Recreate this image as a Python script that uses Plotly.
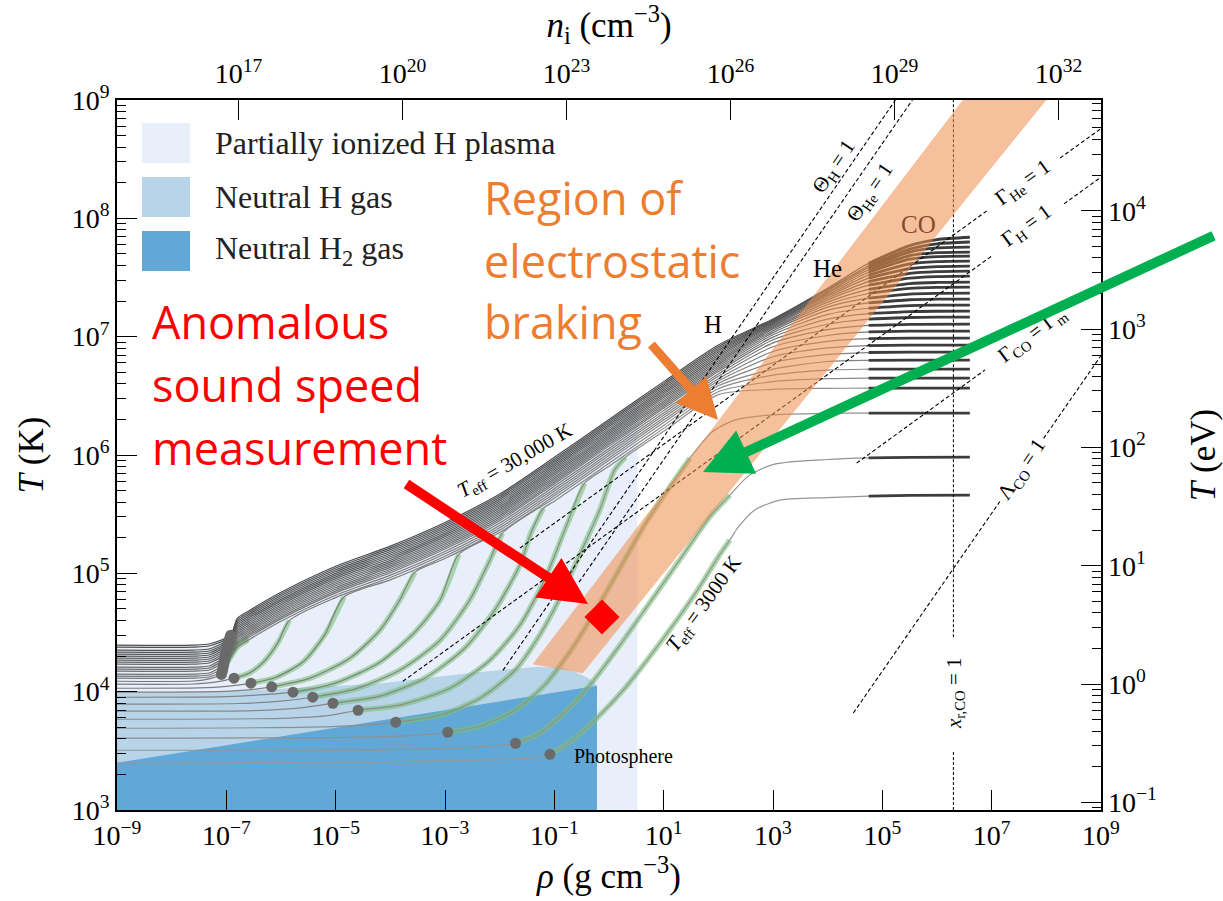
import plotly.graph_objects as go

SERIF = "Liberation Serif"
SANS = "Open Sans"

# n_i = rho / m_H  and  T[eV] = T[K] / 11604.5  (log10 offsets for the twin axes)
LOG_NI_OFFSET = 23.776
LOG_K_PER_EV = 4.0646

RHO_TICK_EXP = [-9, -7, -5, -3, -1, 1, 3, 5, 7, 9]
T_TICK_EXP = [3, 4, 5, 6, 7, 8, 9]
NI_TICK_EXP = [17, 20, 23, 26, 29, 32]
EV_TICK_EXP = [-1, 0, 1, 2, 3, 4]

TEFF_K = [3000, 4000, 5000, 6000, 7000, 8000, 9000, 10000, 11000, 12000,
          13000, 14000, 15000, 16000, 17000, 18000, 19000, 20000, 21000,
          22000, 23000, 24000, 25000, 26000, 27000, 28000, 29000, 30000]

# Envelope profiles: (log10 rho [g/cm3], log10 T [K]) for each T_eff
P3000 = [(-9.0, 3.395), (-4.74, 3.404), (-2.36, 3.421), (-1.45, 3.438), (-1.08, 3.471), (-0.72, 3.573),
         (-0.26, 3.759), (0.29, 4.029), (0.93, 4.41), (1.57, 4.824), (2.02, 5.154), (2.21, 5.28),
         (2.35, 5.382), (2.66, 5.534), (3.12, 5.618), (4.0, 5.64), (4.75, 5.652), (5.5, 5.658), (6.6, 5.661)]
P4000 = [(-9.0, 3.505), (-3.5, 3.515), (-2.3, 3.535), (-1.71, 3.564), (-1.27, 3.649), (-0.81, 3.826),
         (-0.35, 4.055), (0.20, 4.393), (0.74, 4.748), (1.29, 5.111), (1.84, 5.475), (2.21, 5.661),
         (2.57, 5.83), (3.03, 5.923), (4.0, 5.962), (4.75, 5.975), (5.5, 5.98), (6.6, 5.982)]
P5000 = [(-9.0, 3.607), (-4.5, 3.615), (-3.4, 3.635), (-2.95, 3.657), (-2.36, 3.708), (-1.72, 3.843),
         (-1.18, 4.055), (-0.72, 4.334), (-0.26, 4.672), (0.20, 5.044), (0.65, 5.407), (1.11, 5.728),
         (1.48, 5.974), (1.88, 6.193), (2.30, 6.295), (2.94, 6.337), (4.0, 6.352), (4.75, 6.354),
         (5.5, 6.354), (6.6, 6.354)]
P6000 = [(-9.0, 3.691), (-5.5, 3.70), (-4.4, 3.72), (-3.90, 3.742), (-3.09, 3.801), (-2.36, 3.945),
         (-1.72, 4.181), (-1.27, 4.477), (-0.90, 4.79), (-0.54, 5.154), (-0.17, 5.534), (0.10, 5.872),
         (0.3, 5.98), (1.0, 6.20), (2.0, 6.51), (3.0, 6.555), (4.0, 6.563), (4.75, 6.565), (5.5, 6.565),
         (6.6, 6.565)]
P7000 = [(-9.0, 3.767), (-6.0, 3.775), (-5.1, 3.80), (-4.59, 3.843), (-3.83, 3.886), (-2.91, 4.029),
         (-2.18, 4.266), (-1.63, 4.562), (-1.18, 4.943), (-0.81, 5.365), (-0.45, 5.76), (0.0, 5.905),
         (1.0, 6.225), (2.0, 6.535), (3.0, 6.62), (4.0, 6.645), (4.75, 6.65), (5.5, 6.65), (6.6, 6.65)]
P8000 = [(-9.0, 3.835), (-6.5, 3.84), (-5.6, 3.865), (-5.05, 3.902), (-4.19, 3.962), (-3.37, 4.114),
         (-2.64, 4.367), (-2.09, 4.689), (-1.63, 5.07), (-1.42, 5.35), (-1.2, 5.55), (-1.0, 5.61),
         (0.0, 5.93), (1.0, 6.25), (2.0, 6.56), (3.0, 6.675), (4.0, 6.718), (4.75, 6.725), (5.5, 6.726),
         (6.6, 6.726)]
P9000 = [(-9.0, 3.894), (-6.8, 3.90), (-6.0, 3.92), (-5.42, 3.953), (-4.65, 4.021), (-3.83, 4.181),
         (-3.09, 4.435), (-2.55, 4.773), (-2.18, 5.111), (-1.95, 5.34), (-1.0, 5.635), (0.0, 5.955),
         (1.0, 6.275), (2.0, 6.585), (3.0, 6.725), (4.0, 6.79), (4.75, 6.80), (5.5, 6.802), (6.6, 6.802)]
P10000 = [(-9.0, 3.953), (-7.0, 3.958), (-6.3, 3.975), (-5.78, 3.996), (-5.01, 4.072), (-4.19, 4.249),
          (-3.55, 4.503), (-3.09, 4.773), (-2.75, 5.16), (-2.0, 5.345), (-1.0, 5.655), (0.0, 5.975),
          (1.0, 6.295), (2.0, 6.605), (3.0, 6.78), (4.0, 6.85), (4.75, 6.866), (5.5, 6.87), (6.6, 6.87)]
P11000 = [(-9.0, 3.996), (-7.2, 4.0), (-6.6, 4.015), (-6.17, 4.041), (-5.47, 4.114), (-4.74, 4.283),
          (-4.19, 4.52), (-3.83, 4.773), (-3.55, 5.01), (-3.0, 5.125), (-2.0, 5.365), (-1.0, 5.675),
          (0.0, 5.995), (1.0, 6.315), (2.0, 6.625), (3.0, 6.83), (4.0, 6.905), (4.75, 6.925),
          (5.5, 6.929), (6.6, 6.929)]
P12000 = [(-9.0, 4.029), (-7.5, 4.032), (-7.0, 4.045), (-6.55, 4.072), (-6.1, 4.12), (-5.6, 4.25),
          (-5.2, 4.48), (-4.85, 4.80), (-4.0, 4.945), (-3.0, 5.145), (-2.0, 5.385), (-1.0, 5.695),
          (0.0, 6.015), (1.0, 6.335), (2.0, 6.645), (3.0, 6.875), (4.0, 6.96), (4.75, 6.983),
          (5.5, 6.988), (6.6, 6.988)]
P13000 = [(-9.0, 4.063), (-7.6, 4.065), (-7.2, 4.08), (-6.86, 4.114), (-6.57, 4.16), (-6.3, 4.26),
          (-6.05, 4.42), (-5.85, 4.60), (-5.0, 4.795), (-4.0, 4.965), (-3.0, 5.165), (-2.0, 5.405),
          (-1.0, 5.715), (0.0, 6.035), (1.0, 6.355), (2.0, 6.665), (3.0, 6.915), (4.0, 7.01),
          (4.75, 7.04), (5.5, 7.046), (6.6, 7.047)]
P14000 = [(-9.0, 4.088), (-7.6, 4.09), (-7.3, 4.11), (-7.09, 4.146), (-6.95, 4.27), (-6.8, 4.375),
          (-6.6, 4.435), (-6.0, 4.595), (-5.0, 4.815), (-4.0, 4.985), (-3.0, 5.185), (-2.0, 5.425),
          (-1.0, 5.735), (0.0, 6.055), (1.0, 6.375), (2.0, 6.685), (3.0, 6.948), (4.0, 7.06),
          (4.75, 7.095), (5.5, 7.104), (6.6, 7.106)]
P15000 = [(-9.0, 4.114), (-7.6, 4.114), (-7.3, 4.126), (-7.07, 4.176), (-6.8, 4.395), (-6.6, 4.455),
          (-6.0, 4.615), (-5.0, 4.835), (-4.0, 5.005), (-3.0, 5.205), (-2.0, 5.445), (-1.0, 5.755),
          (0.0, 6.075), (1.0, 6.395), (2.0, 6.705), (3.0, 6.974), (4.0, 7.105), (4.75, 7.148),
          (5.5, 7.162), (6.0, 7.165), (6.6, 7.165)]
P16000 = [(-9.0, 4.131), (-7.6, 4.131), (-7.3, 4.143), (-7.06, 4.204), (-6.8, 4.41), (-6.6, 4.47),
          (-6.0, 4.63), (-5.0, 4.85), (-4.0, 5.02), (-3.0, 5.22), (-2.0, 5.46), (-1.0, 5.77),
          (0.0, 6.09), (1.0, 6.41), (2.0, 6.72), (3.0, 6.996), (4.0, 7.148), (4.75, 7.195),
          (5.5, 7.212), (6.0, 7.215), (6.6, 7.216)]
P17000 = [(-9.0, 4.148), (-7.6, 4.148), (-7.3, 4.16), (-7.05, 4.23), (-6.8, 4.425), (-6.6, 4.485),
          (-6.0, 4.645), (-5.0, 4.865), (-4.0, 5.035), (-3.0, 5.235), (-2.0, 5.475), (-1.0, 5.785),
          (0.0, 6.105), (1.0, 6.425), (2.0, 6.735), (3.0, 7.016), (4.0, 7.188), (4.75, 7.24),
          (5.5, 7.262), (6.0, 7.266), (6.6, 7.267)]
P18000 = [(-9.0, 4.173), (-7.6, 4.173), (-7.3, 4.185), (-7.04, 4.255), (-6.8, 4.44), (-6.6, 4.50),
          (-6.0, 4.66), (-5.0, 4.88), (-4.0, 5.05), (-3.0, 5.25), (-2.0, 5.49), (-1.0, 5.80),
          (0.0, 6.12), (1.0, 6.44), (2.0, 6.75), (3.0, 7.034), (4.0, 7.222), (4.75, 7.285),
          (5.5, 7.312), (6.0, 7.317), (6.6, 7.318)]
P19000 = [(-9.0, 4.19), (-7.6, 4.19), (-7.3, 4.202), (-7.03, 4.279), (-6.8, 4.455), (-6.6, 4.515),
          (-6.0, 4.675), (-5.0, 4.895), (-4.0, 5.065), (-3.0, 5.265), (-2.0, 5.505), (-1.0, 5.815),
          (0.0, 6.135), (1.0, 6.455), (2.0, 6.765), (3.0, 7.05), (4.0, 7.25), (4.75, 7.325),
          (5.5, 7.36), (6.0, 7.366), (6.6, 7.368)]
P20000 = [(-9.0, 4.207), (-7.6, 4.207), (-7.3, 4.219), (-7.02, 4.301), (-6.8, 4.47), (-6.6, 4.53),
          (-6.0, 4.69), (-5.0, 4.91), (-4.0, 5.08), (-3.0, 5.28), (-2.0, 5.52), (-1.0, 5.83),
          (0.0, 6.15), (1.0, 6.47), (2.0, 6.78), (3.0, 7.064), (4.0, 7.272), (4.75, 7.365),
          (5.5, 7.408), (6.0, 7.417), (6.6, 7.419)]
P21000 = [(-9.0, 4.232), (-7.6, 4.232), (-7.3, 4.244), (-7.01, 4.322), (-6.8, 4.485), (-6.6, 4.545),
          (-6.0, 4.705), (-5.0, 4.925), (-4.0, 5.095), (-3.0, 5.295), (-2.0, 5.535), (-1.0, 5.845),
          (0.0, 6.165), (1.0, 6.485), (2.0, 6.795), (3.0, 7.076), (4.0, 7.292), (4.75, 7.40),
          (5.5, 7.448), (6.0, 7.458), (6.6, 7.461)]
P22000 = [(-9.0, 4.249), (-7.6, 4.249), (-7.3, 4.261), (-7.0, 4.342), (-6.8, 4.50), (-6.6, 4.56),
          (-6.0, 4.72), (-5.0, 4.94), (-4.0, 5.11), (-3.0, 5.31), (-2.0, 5.55), (-1.0, 5.86),
          (0.0, 6.18), (1.0, 6.50), (2.0, 6.81), (3.0, 7.087), (4.0, 7.31), (4.75, 7.435),
          (5.5, 7.495), (6.0, 7.508), (6.6, 7.512)]
P23000 = [(-9.0, 4.266), (-7.6, 4.266), (-7.3, 4.278), (-6.99, 4.362), (-6.8, 4.515), (-6.6, 4.575),
          (-6.0, 4.735), (-5.0, 4.955), (-4.0, 5.125), (-3.0, 5.325), (-2.0, 5.565), (-1.0, 5.875),
          (0.0, 6.195), (1.0, 6.515), (2.0, 6.825), (3.0, 7.097), (4.0, 7.325), (4.75, 7.465),
          (5.5, 7.535), (6.0, 7.55), (6.6, 7.554)]
P24000 = [(-9.0, 4.283), (-7.6, 4.283), (-7.3, 4.295), (-6.98, 4.38), (-6.8, 4.53), (-6.6, 4.59),
          (-6.0, 4.75), (-5.0, 4.97), (-4.0, 5.14), (-3.0, 5.34), (-2.0, 5.58), (-1.0, 5.89),
          (0.0, 6.21), (1.0, 6.53), (2.0, 6.84), (3.0, 7.106), (4.0, 7.34), (4.75, 7.495),
          (5.5, 7.575), (6.0, 7.592), (6.6, 7.596)]
P25000 = [(-9.0, 4.30), (-7.6, 4.30), (-7.3, 4.312), (-6.97, 4.398), (-6.8, 4.545), (-6.6, 4.605),
          (-6.0, 4.765), (-5.0, 4.985), (-4.0, 5.155), (-3.0, 5.355), (-2.0, 5.595), (-1.0, 5.905),
          (0.0, 6.225), (1.0, 6.545), (2.0, 6.855), (3.0, 7.115), (4.0, 7.353), (4.75, 7.52),
          (5.5, 7.615), (6.0, 7.635), (6.6, 7.639)]
P26000 = [(-9.0, 4.317), (-7.6, 4.317), (-7.3, 4.329), (-6.96, 4.415), (-6.8, 4.56), (-6.6, 4.62),
          (-6.0, 4.78), (-5.0, 5.00), (-4.0, 5.17), (-3.0, 5.37), (-2.0, 5.61), (-1.0, 5.92),
          (0.0, 6.24), (1.0, 6.56), (2.0, 6.87), (3.0, 7.122), (4.0, 7.366), (4.75, 7.545),
          (5.5, 7.655), (6.0, 7.677), (6.6, 7.681)]
P27000 = [(-9.0, 4.334), (-7.6, 4.334), (-7.3, 4.346), (-6.95, 4.431), (-6.8, 4.575), (-6.6, 4.635),
          (-6.0, 4.795), (-5.0, 5.015), (-4.0, 5.185), (-3.0, 5.385), (-2.0, 5.625), (-1.0, 5.935),
          (0.0, 6.255), (1.0, 6.575), (2.0, 6.885), (3.0, 7.129), (4.0, 7.378), (4.75, 7.565),
          (5.5, 7.685), (6.0, 7.71), (6.6, 7.715)]
P28000 = [(-9.0, 4.351), (-7.6, 4.351), (-7.3, 4.363), (-6.94, 4.447), (-6.8, 4.59), (-6.6, 4.65),
          (-6.0, 4.81), (-5.0, 5.03), (-4.0, 5.20), (-3.0, 5.40), (-2.0, 5.64), (-1.0, 5.95),
          (0.0, 6.27), (1.0, 6.59), (2.0, 6.90), (3.0, 7.136), (4.0, 7.39), (4.75, 7.585),
          (5.5, 7.715), (6.0, 7.75), (6.6, 7.757)]
P29000 = [(-9.0, 4.376), (-7.6, 4.376), (-7.3, 4.388), (-6.93, 4.462), (-6.8, 4.605), (-6.6, 4.665),
          (-6.0, 4.825), (-5.0, 5.045), (-4.0, 5.215), (-3.0, 5.415), (-2.0, 5.655), (-1.0, 5.965),
          (0.0, 6.285), (1.0, 6.605), (2.0, 6.915), (3.0, 7.143), (4.0, 7.40), (4.75, 7.60),
          (5.5, 7.74), (6.0, 7.785), (6.6, 7.80)]
P30000 = [(-9.0, 4.393), (-7.6, 4.393), (-7.3, 4.405), (-6.92, 4.477), (-6.8, 4.62), (-6.6, 4.68),
          (-6.0, 4.84), (-5.0, 5.06), (-4.0, 5.23), (-3.0, 5.43), (-2.0, 5.67), (-1.0, 5.98),
          (0.0, 6.30), (1.0, 6.62), (2.0, 6.93), (3.0, 7.15), (4.0, 7.41), (4.75, 7.62),
          (5.5, 7.77), (6.0, 7.82), (6.6, 7.84)]

PROFILES = [P3000, P4000, P5000, P6000, P7000, P8000, P9000, P10000, P11000, P12000, P13000,
            P14000, P15000, P16000, P17000, P18000, P19000, P20000, P21000, P22000, P23000,
            P24000, P25000, P26000, P27000, P28000, P29000, P30000]

# index of the photosphere point and last point of the convective zone in each profile
PHOTOSPHERE_IDX = [4] + [3] * 27
CONVECTIVE_END_IDX = [11, 11, 12, 12, 10, 10, 9, 8, 8, 7, 7, 6, 5, 4, 4] + [None] * 13
CORE_LOG_RHO = 4.75  # degenerate core drawn with heavier lines beyond this density

# Regions (log10 rho, log10 T)
PLASMA_REGION = [(-9.0, 3.0), (-9.0, 4.39), (-7.6, 4.39), (-7.3, 4.40), (-6.92, 4.48), (-6.8, 4.62),
                 (-6.6, 4.68), (-6.0, 4.84), (-5.0, 5.06), (-4.0, 5.23), (-3.0, 5.43), (-2.0, 5.67),
                 (-1.0, 5.98), (0.0, 6.30), (0.52, 6.47), (0.52, 3.0)]
NEUTRAL_H_REGION = [(-9.0, 3.0), (-9.0, 3.99), (-6.57, 4.01), (-4.19, 4.07), (-2.5, 4.16),
                    (-1.32, 4.21), (-0.85, 4.20), (-0.585, 4.16), (-0.40, 4.12), (-0.27, 4.08),
                    (-0.22, 4.05), (-0.22, 3.0)]
NEUTRAL_H2_REGION = [(-9.0, 3.0), (-9.0, 3.40), (-0.22, 4.05), (-0.22, 3.0)]
BRAKING_REGION = [(-1.395, 4.232), (-0.48, 4.156), (8.0, 9.0), (6.47, 9.0)]

# Characteristic lines (segments, gaps leave room for inline labels)
THETA_H_LINE = [[(-1.94, 4.18), (5.24, 9.0)]]
THETA_HE_LINE = [[(-0.55, 4.925), (5.55, 9.0)]]
GAMMA_H_LINE = [[(-3.77, 4.088), (7.006, 7.683)], [(8.323, 8.122), (9.0, 8.348)]]
GAMMA_HE_LINE = [[(-1.63, 5.213), (6.933, 8.070)], [(8.25, 8.509), (9.0, 8.759)]]
GAMMA_CO_LINE = [[(4.53, 5.931), (6.878, 6.719)], [(8.616, 7.302), (9.0, 7.431)]]
LAMBDA_CO_LINE = [[(4.47, 3.82), (7.15, 5.607)], [(7.95, 6.14), (9.0, 6.84)]]
XR_CO_LINE = [[(6.30, 3.0), (6.30, 3.505)], [(6.30, 4.46), (6.30, 9.0)]]

# Sound-speed measurement point (rho in g/cm3, T in K)
MEASUREMENT_RHO = 0.745
MEASUREMENT_T = 4.276e4

COLOR_PLASMA = "#e9effa"
COLOR_H = "#b8d4e8"
COLOR_H2 = "#62a8d6"
COLOR_BRAKING = "rgba(240,140,75,0.55)"
COLOR_RED = "#ff0000"
COLOR_ORANGE = "#ED7D31"
COLOR_GREEN = "#00B050"


def to_lin(pairs):
    return [10.0 ** a for a, _ in pairs], [10.0 ** b for _, b in pairs]


def sup(e):
    return "10<sup>%s</sup>" % (str(e).replace("-", "\u2212"))


fig = go.Figure()


def add_region(poly, color):
    x, y = to_lin(poly)
    fig.add_trace(go.Scatter(x=x, y=y, mode="lines", fill="toself", fillcolor=color,
                             line=dict(width=0), hoverinfo="skip", showlegend=False))


add_region(PLASMA_REGION, COLOR_PLASMA)
add_region(NEUTRAL_H_REGION, COLOR_H)
add_region(NEUTRAL_H2_REGION, COLOR_H2)

n = len(PROFILES)
grays = []
for i in range(n):
    v = int(150 - i * (150 - 78) / (n - 1))
    grays.append("rgb(%d,%d,%d)" % (v, v, v))

# convective zones: soft green halo under the profile
for i, prof in enumerate(PROFILES):
    g = CONVECTIVE_END_IDX[i]
    if g is None:
        continue
    seg = prof[PHOTOSPHERE_IDX[i]:g + 1]
    x, y = to_lin(seg)
    fig.add_trace(go.Scatter(x=x, y=y, mode="lines",
                             line=dict(color="rgba(120,192,120,0.6)", width=5.5, shape="spline", smoothing=0.7),
                             hoverinfo="skip", showlegend=False))

for i, prof in enumerate(PROFILES):
    x, y = to_lin(prof)
    fig.add_trace(go.Scatter(x=x, y=y, mode="lines",
                             line=dict(color=grays[i], width=1.2, shape="spline", smoothing=0.7),
                             hoverinfo="skip", showlegend=False))
    core = [p for p in prof if p[0] >= CORE_LOG_RHO]
    cx, cy = to_lin(core)
    fig.add_trace(go.Scatter(x=cx, y=cy, mode="lines",
                             line=dict(color="#3c3c3c", width=2.8, shape="spline", smoothing=0.7),
                             hoverinfo="skip", showlegend=False))

dots = [prof[PHOTOSPHERE_IDX[i]] for i, prof in enumerate(PROFILES)]
dx, dy = to_lin(dots)
fig.add_trace(go.Scatter(x=dx, y=dy, mode="markers",
                         marker=dict(size=11, color="#6a6a6a", line=dict(width=0)),
                         hoverinfo="skip", showlegend=False))


def add_dashed(segments, dash="4px,2.5px", width=1.1):
    xs, ys = [], []
    for seg in segments:
        x, y = to_lin(seg)
        xs += x + [None]
        ys += y + [None]
    fig.add_trace(go.Scatter(x=xs, y=ys, mode="lines",
                             line=dict(color="black", width=width, dash=dash),
                             hoverinfo="skip", showlegend=False))


for segs in [THETA_H_LINE, THETA_HE_LINE, GAMMA_H_LINE, GAMMA_HE_LINE, GAMMA_CO_LINE, LAMBDA_CO_LINE]:
    add_dashed(segs)
add_dashed(XR_CO_LINE, dash="3px,2px", width=1.0)

add_region(BRAKING_REGION, COLOR_BRAKING)

# measurement point, plotted against the twin (n_i, T[eV]) axes
fig.add_trace(go.Scatter(x=[MEASUREMENT_RHO * 10.0 ** LOG_NI_OFFSET],
                         y=[MEASUREMENT_T / 10.0 ** LOG_K_PER_EV],
                         xaxis="x2", yaxis="y2", mode="markers",
                         marker=dict(symbol="diamond", size=27, color=COLOR_RED, line=dict(width=0)),
                         hoverinfo="skip", showlegend=False))


def label(text, lx, ly, angle=0, size=21, color="black", xanchor="center", family=SERIF):
    fig.add_annotation(x=lx, y=ly, xref="x", yref="y", text=text, showarrow=False,
                       textangle=angle, xanchor=xanchor, yanchor="middle",
                       font=dict(family=family, size=size, color=color))


label("<i>T</i><sub>eff</sub> = 30,000 K", -1.72, 5.95, angle=-30, size=21)
label("<i>T</i><sub>eff</sub> = 3000 K", 1.74, 4.74, angle=-54, size=21)
label("\u0398<sub>H</sub> = 1", 4.116, 8.434, angle=-56)
label("\u0398<sub>He</sub> = 1", 4.775, 8.214, angle=-56)
label("\u0393<sub>He</sub> = 1", 7.573, 8.30, angle=-36)
label("\u0393<sub>H</sub> = 1", 7.647, 7.935, angle=-36)
label("\u0393<sub>CO</sub> = \u0393<sub>m</sub>", 7.74, 7.014, angle=-37)
label("\u039b<sub>CO</sub> = 1", 7.55, 5.873, angle=-56)
label("<i>x</i><sub>r,CO</sub> = 1", 6.33, 3.989, angle=-90)
label("H", 1.90, 7.10, size=25)
label("He", 4.006, 7.58, size=25)
label("CO", 5.653, 7.944, size=25, color="#8a4a25")
label("Photosphere", -0.677, 3.448, size=20, xanchor="left")

for txt, ly in [("Region of", 8.18), ("electrostatic", 7.64), ("braking", 7.132)]:
    label(txt, -2.323, ly, size=45, color=COLOR_ORANGE, xanchor="left", family=SANS)
for txt, ly in [("Anomalous", 7.132), ("sound speed", 6.60), ("measurement", 6.067)]:
    label(txt, -8.396, ly, size=45, color=COLOR_RED, xanchor="left", family=SANS)


def arrow(tip, tail, color, width, size):
    fig.add_annotation(x=tip[0], y=tip[1], ax=tail[0], ay=tail[1], xref="x", yref="y",
                       axref="x", ayref="y", text="", showarrow=True, arrowhead=2,
                       arrowsize=size, arrowwidth=width, arrowcolor=color)


arrow((-0.384, 4.741), (-3.732, 5.763), COLOR_RED, 10, 0.95)
arrow((1.994, 6.296), (0.750, 6.946), COLOR_ORANGE, 9, 0.9)
arrow((1.72, 5.856), (11.086, 7.859), COLOR_GREEN, 10, 0.95)

# legend swatches
LEGEND_ITEMS = [("Partially ionized H plasma", COLOR_PLASMA), ("Neutral H gas", COLOR_H),
                ("Neutral H<sub>2</sub> gas", COLOR_H2)]
for k, (txt, col) in enumerate(LEGEND_ITEMS):
    top = 0.9676 - k * 0.0761
    fig.add_shape(type="rect", xref="paper", yref="paper", x0=0.0254, x1=0.0742,
                  y0=top - 0.0563, y1=top, fillcolor=col, line=dict(width=0), layer="above")
    fig.add_annotation(xref="paper", yref="paper", x=0.0976, y=top - 0.028, text=txt,
                       showarrow=False, xanchor="left", yanchor="middle",
                       font=dict(family=SERIF, size=32, color="#222"))

minor_k = [m * 10.0 ** e for e in range(3, 9) for m in range(2, 10)]
minor_ev = [m * 10.0 ** e for e in range(-2, 5) for m in range(2, 10)]

axis_common = dict(type="log", showgrid=False, zeroline=False, ticks="inside", tickcolor="black",
                   tickwidth=1.4, automargin=False, tickfont=dict(family=SERIF, size=28, color="black"))

fig.update_layout(
    width=1223, height=901,
    margin=dict(l=117, r=122, t=100, b=91, autoexpand=False),
    paper_bgcolor="white", plot_bgcolor="white",
    showlegend=False,
    font=dict(family=SERIF, color="black"),
    xaxis=dict(**axis_common, range=[RHO_TICK_EXP[0], RHO_TICK_EXP[-1]],
               tickvals=[10.0 ** e for e in RHO_TICK_EXP], ticktext=[sup(e) for e in RHO_TICK_EXP],
               ticklen=20, showline=True, linecolor="black", linewidth=1.6, mirror=True,
               title=dict(text="<i>\u03c1</i> (g cm<sup>\u22123</sup>)", font=dict(size=35), standoff=8)),
    xaxis2=dict(**axis_common, overlaying="x", side="top", anchor="y",
                range=[RHO_TICK_EXP[0] + LOG_NI_OFFSET, RHO_TICK_EXP[-1] + LOG_NI_OFFSET],
                tickvals=[10.0 ** e for e in NI_TICK_EXP], ticktext=[sup(e) for e in NI_TICK_EXP],
                ticklen=20, showline=False, ticklabelstandoff=10,
                title=dict(text="<i>n</i><sub>i</sub> (cm<sup>\u22123</sup>)", font=dict(size=35), standoff=8)),
    yaxis=dict(**axis_common, range=[T_TICK_EXP[0], T_TICK_EXP[-1]],
               tickvals=[10.0 ** e for e in T_TICK_EXP], ticktext=[sup(e) for e in T_TICK_EXP],
               ticklen=20, showline=True, linecolor="black", linewidth=1.6, mirror=True,
               minor=dict(ticks="inside", ticklen=9, tickvals=minor_k, tickcolor="black", tickwidth=1.2),
               title=dict(text="<i>T</i> (K)", font=dict(size=35), standoff=18)),
    yaxis2=dict(**axis_common, overlaying="y", side="right", anchor="x",
                range=[T_TICK_EXP[0] - LOG_K_PER_EV, T_TICK_EXP[-1] - LOG_K_PER_EV],
                tickvals=[10.0 ** e for e in EV_TICK_EXP], ticktext=[sup(e) for e in EV_TICK_EXP],
                ticklen=20, showline=False, ticklabelstandoff=6,
                minor=dict(ticks="inside", ticklen=9, tickvals=minor_ev, tickcolor="black", tickwidth=1.2),
                title=dict(text="<i>T</i> (eV)", font=dict(size=35), standoff=34)),
)

fig.write_html("out.html")
